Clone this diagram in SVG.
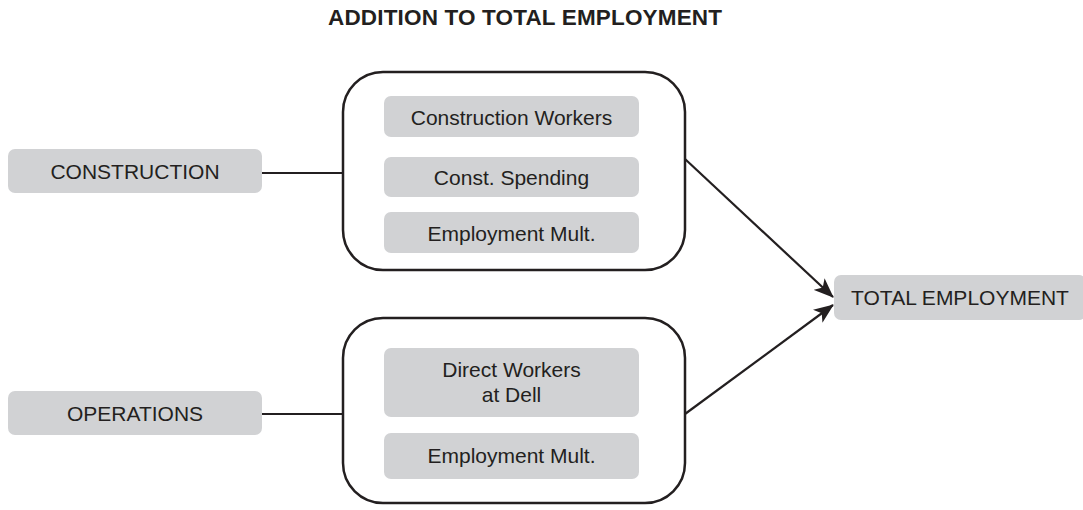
<svg xmlns="http://www.w3.org/2000/svg" width="1083" height="510" viewBox="0 0 1083 510">
<style>
.box{fill:#d1d2d4;}
.lbl{font-family:"Liberation Sans",Arial,sans-serif;font-size:21px;fill:#231f20;text-anchor:middle;}
.cont{fill:none;stroke:#231f20;stroke-width:2.5;}
.ln{fill:none;stroke:#231f20;stroke-width:2.2;}
.title{font-family:"Liberation Sans",Arial,sans-serif;font-weight:bold;font-size:22.5px;fill:#231f20;text-anchor:middle;}
</style>
<defs>
<marker id="arr" viewBox="0 0 20 16" refX="19" refY="8" markerWidth="20" markerHeight="16" markerUnits="userSpaceOnUse" orient="auto">
<path d="M0,0 L20,8 L0,16 L5,8 Z" fill="#231f20"/>
</marker>
</defs>
<text class="title" x="525" y="25" textLength="394" lengthAdjust="spacing">ADDITION TO TOTAL EMPLOYMENT</text>
<g id="connectors">
<line class="ln" x1="262" y1="173" x2="343" y2="173"/>
<line class="ln" x1="262" y1="414" x2="343" y2="414"/>
<line class="ln" x1="685" y1="159" x2="833" y2="297" marker-end="url(#arr)"/>
<line class="ln" x1="685" y1="414" x2="833" y2="305" marker-end="url(#arr)"/>
</g>
<g id="construction">
<rect class="box" x="8" y="149" width="254" height="44" rx="7"/>
<text class="lbl" x="135" y="179">CONSTRUCTION</text>
</g>
<g id="operations">
<rect class="box" x="8" y="391" width="254" height="44" rx="7"/>
<text class="lbl" x="135" y="421">OPERATIONS</text>
</g>
<g id="construction-group">
<rect class="cont" x="343" y="72" width="342" height="198" rx="40"/>
<g id="construction-workers">
<rect class="box" x="384" y="96" width="255" height="41" rx="7"/>
<text class="lbl" x="511.5" y="125">Construction Workers</text>
</g>
<g id="const-spending">
<rect class="box" x="384" y="157" width="255" height="40" rx="7"/>
<text class="lbl" x="511.5" y="185">Const. Spending</text>
</g>
<g id="employment-mult-1">
<rect class="box" x="384" y="212" width="255" height="41" rx="7"/>
<text class="lbl" x="511.5" y="241">Employment Mult.</text>
</g>
</g>
<g id="operations-group">
<rect class="cont" x="343" y="318" width="342" height="185" rx="40"/>
<g id="direct-workers">
<rect class="box" x="384" y="348" width="255" height="69" rx="7"/>
<text class="lbl" x="511.5" y="377">Direct Workers</text>
<text class="lbl" x="511.5" y="402">at Dell</text>
</g>
<g id="employment-mult-2">
<rect class="box" x="384" y="433" width="255" height="46" rx="7"/>
<text class="lbl" x="511.5" y="463">Employment Mult.</text>
</g>
</g>
<g id="total-employment">
<rect class="box" x="834" y="275" width="252" height="45" rx="7"/>
<text class="lbl" x="960" y="305">TOTAL EMPLOYMENT</text>
</g>
</svg>
